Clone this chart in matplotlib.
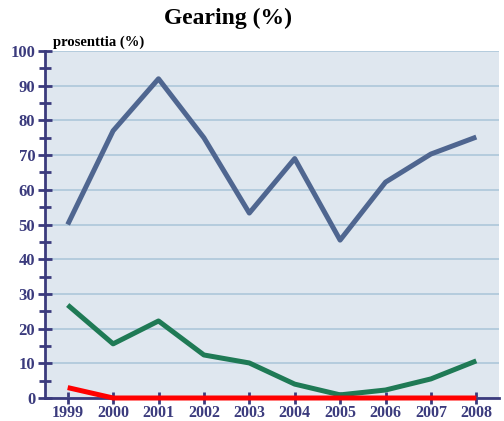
import matplotlib
matplotlib.use("Agg")
import matplotlib.pyplot as plt
from matplotlib.ticker import MultipleLocator

years = ["1999", "2000", "2001", "2002", "2003", "2004", "2005", "2006", "2007", "2008"]
blue_vals = [50, 77, 92, 75, 53.3, 69, 45.5, 62.2, 70.3, 75.2]
green_vals = [26.8, 15.6, 22.2, 12.4, 10.1, 4.0, 0.9, 2.3, 5.5, 10.7]
red_vals = [3.0, 0, 0, 0, 0, 0, 0, 0, 0, 0]

navy = "#3b3b7d"
serif = ["Liberation Serif", "DejaVu Serif"]

fig = plt.figure(figsize=(5.04, 4.21), dpi=100)
ax = fig.add_axes([45/504, 23/421, 454/504, 347/421])
ax.set_facecolor("#dfe7ef")

x = list(range(len(years)))
ax.plot(x, blue_vals, color="#4f6690", lw=3.6, solid_capstyle="butt", zorder=3)
ax.plot(x, green_vals, color="#1f7a55", lw=3.6, solid_capstyle="butt", zorder=3)
ax.plot(x, red_vals, color="#ff0000", lw=3.6, solid_capstyle="butt", zorder=4, clip_on=False)

ax.set_xlim(-0.5, 9.5)
ax.set_ylim(0, 100)
ax.yaxis.set_major_locator(MultipleLocator(10))
ax.yaxis.set_minor_locator(MultipleLocator(5))
ax.set_xticks(x)
ax.set_xticklabels(years)
ax.grid(axis="y", which="major", color="#a9c4d8", lw=1.1, zorder=1)
ax.set_axisbelow(True)

for s in ["top", "right"]:
    ax.spines[s].set_visible(False)
for s in ["left", "bottom"]:
    ax.spines[s].set_color(navy)
    ax.spines[s].set_linewidth(2)

ax.tick_params(axis="y", which="major", direction="inout", length=10, width=2, color=navy,
               labelcolor=navy, pad=2)
ax.tick_params(axis="y", which="minor", direction="inout", length=8, width=2, color=navy)
ax.tick_params(axis="x", which="major", direction="inout", length=9, width=2, color=navy,
               labelcolor=navy, pad=0.5)
for lbl in ax.get_yticklabels():
    lbl.set_fontfamily(serif)
    lbl.set_fontweight("bold")
    lbl.set_fontsize(12)
for lbl in ax.get_xticklabels():
    lbl.set_fontfamily(serif)
    lbl.set_fontweight("bold")
    lbl.set_fontsize(11.5)

fig.text(228/504, 1 - 18/421, "Gearing (%)", ha="center", va="center",
         fontsize=17, fontweight="bold", family=serif)
fig.text(53/504, 1 - 42/421, "prosenttia (%)", ha="left", va="center",
         fontsize=10.5, fontweight="bold", family=serif)

fig.savefig("out.png", dpi=100)
